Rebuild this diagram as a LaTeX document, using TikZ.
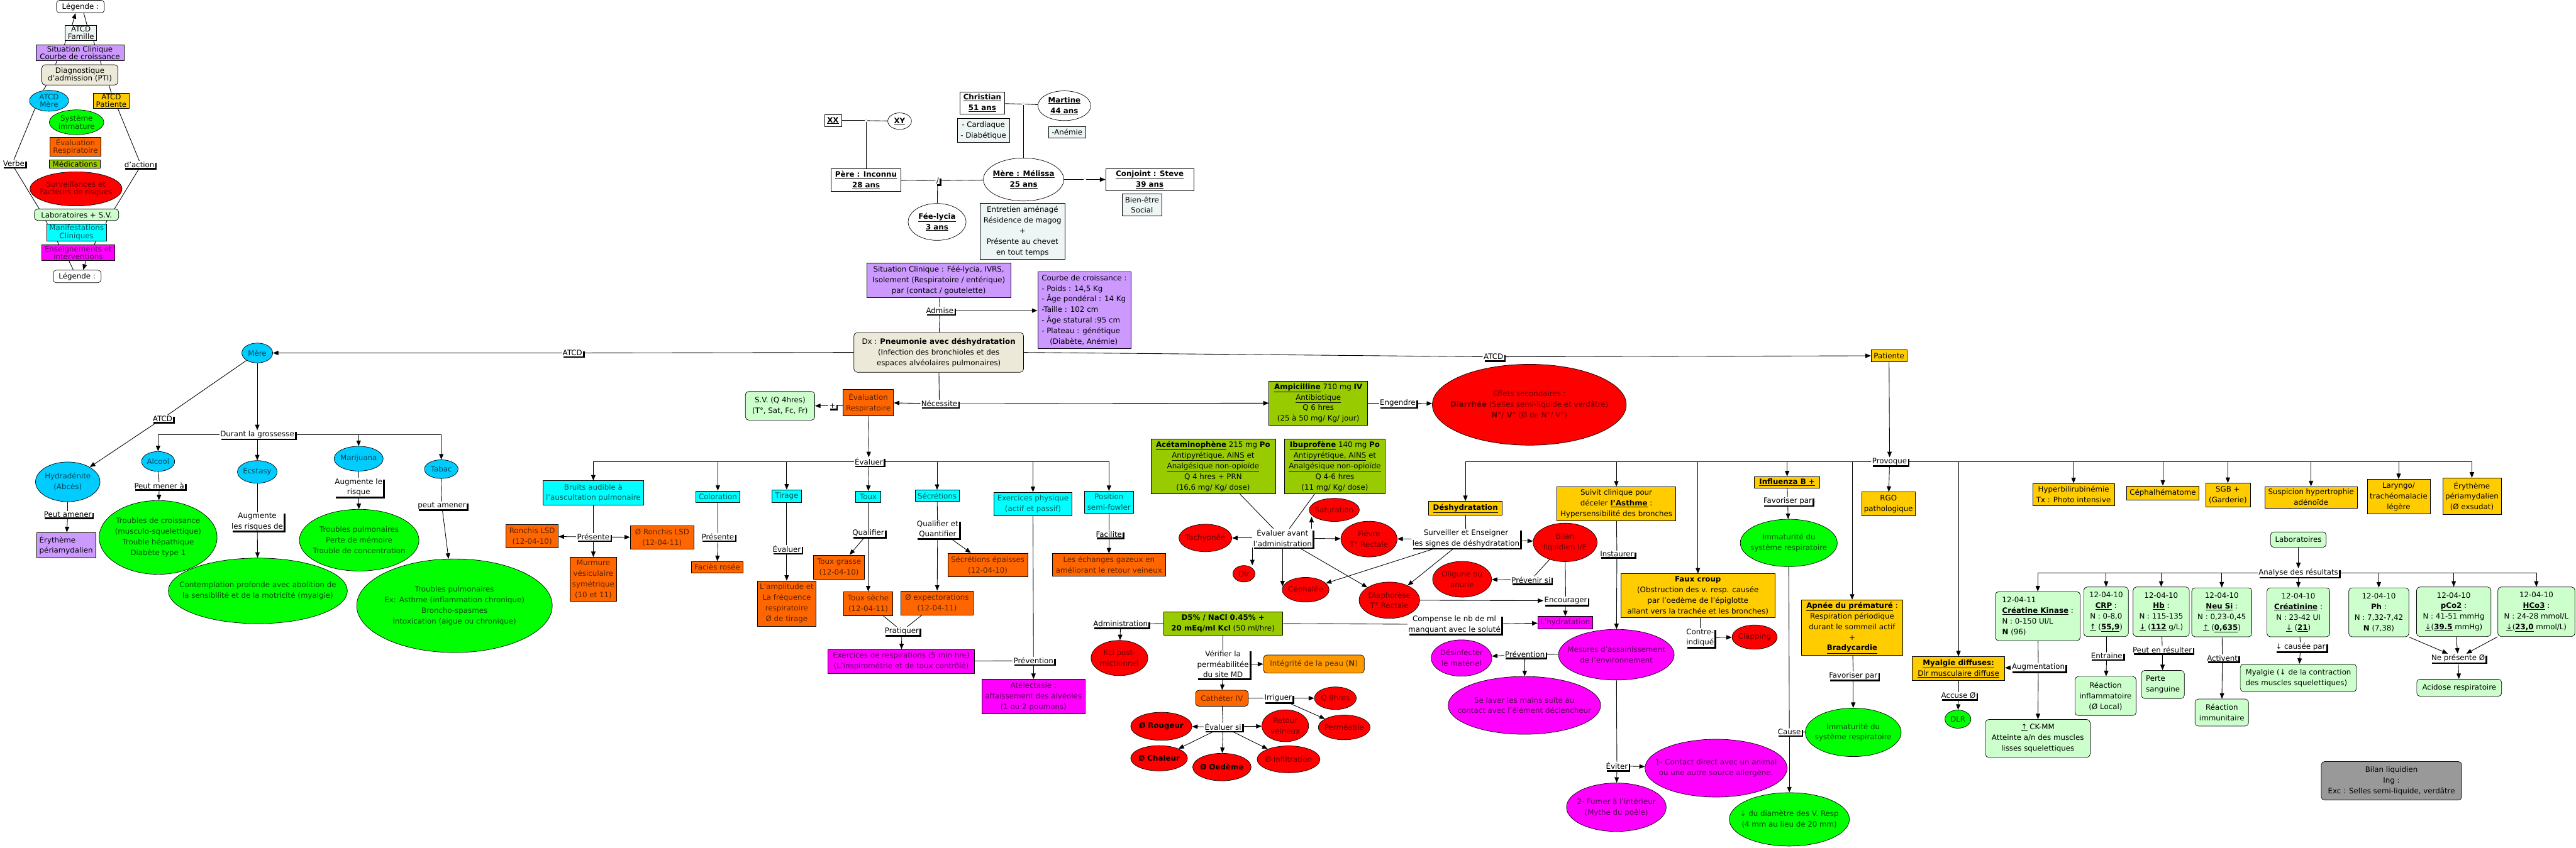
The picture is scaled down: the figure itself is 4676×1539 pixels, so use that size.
\documentclass[tikz,border=0pt]{standalone}
\usepackage{fontspec}
\setmainfont{DejaVu Sans}
\usetikzlibrary{shapes.geometric,arrows.meta,shadows,calc}
\pgfdeclarelayer{bg}
\pgfsetlayers{bg,main}
\definecolor{cPur}{HTML}{CC99FF}
\definecolor{cBei}{HTML}{ECE9D8}
\definecolor{cGry}{HTML}{EEF5F5}
\definecolor{cBlu}{HTML}{00CCFF}
\definecolor{cYel}{HTML}{FFCC00}
\definecolor{cGrn}{HTML}{00FF00}
\definecolor{cOra}{HTML}{FF6600}
\definecolor{cOrb}{HTML}{FF9900}
\definecolor{cMed}{HTML}{99CC00}
\definecolor{cRed}{HTML}{FF0000}
\definecolor{cLgr}{HTML}{CCFFCC}
\definecolor{cCya}{HTML}{00FFFF}
\definecolor{cMag}{HTML}{FF00FF}
\definecolor{cDgr}{HTML}{999999}
\newcommand{\BU}[1]{\textbf{\underline{#1}}}
\begin{document}
\begin{tikzpicture}[x=1pt,y=-1pt,
  every node/.style={font=\fontsize{13.5}{19.3}\selectfont},
  legf/.style={font=\fontsize{13.5}{14}\selectfont},
  shp/.style={draw, line width=0.8pt, inner sep=-300pt, align=center},
  box/.style={shp, rectangle},
  rbox/.style={shp, rectangle, rounded corners=6pt},
  ell/.style={shp, ellipse},
  sz/.style 2 args={minimum width=#1pt, minimum height=#2pt},
  lbl/.style={fill=white, inner xsep=1.5pt, inner ysep=1pt, align=center,
     drop shadow={shadow xshift=3pt, shadow yshift=-3pt, fill=black, opacity=1}},
  mk/.style={fill=white, inner sep=0.5pt, text=black!45, font=\fontsize{9}{9}\selectfont},
  ln/.style={line width=1pt},
  arr/.style={line width=1pt, -{Triangle[length=10pt,width=8pt]}},
  Pur/.style={fill=cPur},
  Bei/.style={fill=cBei},
  Gry/.style={fill=cGry},
  Blu/.style={fill=cBlu, text=cBlu!35!black},
  Yel/.style={fill=cYel},
  Grn/.style={fill=cGrn, text=cGrn!30!black},
  Ora/.style={fill=cOra, text=cOra!35!black},
  Orb/.style={fill=cOrb, text=cOrb!35!black},
  Med/.style={fill=cMed},
  Red/.style={fill=cRed, text=cRed!42!black},
  Lgr/.style={fill=cLgr},
  Cya/.style={fill=cCya, text=cCya!35!black},
  Mag/.style={fill=cMag, text=cMag!35!black},
  Dgr/.style={fill=cDgr}
]
\useasboundingbox (0,0) rectangle (4676,1539);

% ---------------- Legend ----------------
\node[rbox,legf,fill=white,sz={87}{23}] (leg1) at (146,12) {Légende :};
\node[box,legf,Gry,sz={57}{28}] (fam) at (147,60) {ATCD\\Famille};
\node[box,legf,Pur,sz={160}{28}] (legsit) at (145,96) {Situation Clinique\\Courbe de croissance};
\node[rbox,legf,Bei,sz={138}{37}] (legdx) at (145,136) {Diagnostique\\d'admission (PTI)};
\node[ell,legf,Blu,sz={71}{38}] (legmere) at (89,183) {ATCD\\Mère};
\node[box,legf,Yel,sz={65}{28}] (legpat) at (202,183) {ATCD\\Patiente};
\node[ell,legf,Grn,sz={99}{45}] (legsys) at (139,222) {Système\\immature};
\node[box,legf,Ora,sz={93}{34}] (legeval) at (137,266) {Évaluation\\Respiratoire};
\node[box,legf,Med,sz={92}{15}] (legmed) at (136,298) {Médications};
\node[ell,legf,Red,sz={167}{62}] (legsurv) at (138,343) {Surveillances et\\Facteurs de risques};
\node[rbox,legf,Lgr,sz={153}{21}] (leglab) at (139,390) {Laboratoires + S.V.};
\node[box,legf,Cya,sz={109}{31}] (legman) at (139,422) {Manifestations\\Cliniques};
\node[box,legf,Mag,sz={133}{28}] (legens) at (142,459) {Enseignements et\\interventions};
\node[rbox,legf,fill=white,sz={87}{23}] (leg2) at (140,502) {Légende :};
\node[lbl] (legverbe) at (25,297) {Verbe};
\node[lbl] (legact) at (253,299) {d'action};

% ---------------- Family ----------------
\node[box,sz={31}{21}] (xx) at (1512,219) {\BU{XX}};
\node[ell,sz={43}{30}] (xy) at (1633,220) {\BU{XY}};
\node[mk] (mk1) at (1572,219) {-};
\node[box,sz={127}{41}] (pere) at (1572,327) {\BU{Père : Inconnu}\\\BU{28 ans}};
\node[box,sz={81}{40}] (chris) at (1783,187) {\BU{Christian}\\\BU{51 ans}};
\node[ell,sz={96}{54}] (mart) at (1932,192) {\BU{Martine}\\\BU{44 ans}};
\node[box,Gry,sz={95}{43}] (card) at (1785,237) {- Cardiaque\\- Diabétique};
\node[box,Gry,sz={67}{21}] (anem) at (1937,240) {-Anémie};
\node[mk] (mk2) at (1858,189) {-};
\node[ell,sz={146}{78}] (mel) at (1858,326) {\BU{Mère : Mélissa}\\\BU{25 ans}};
\node[lbl] (slash) at (1702,328) {/};
\node[ell,sz={105}{67}] (fee) at (1701,403) {\BU{Fée-lycia}\\\BU{3 ans}};
\node[box,Gry,sz={155}{101}] (entre) at (1856,420) {Entretien aménagé\\Résidence de magog\\+\\Présente au chevet\\en tout temps};
\node[box,sz={160}{40}] (conj) at (2087,326) {\BU{Conjoint : Steve}\\\BU{39 ans}};
\node[mk] (mk3) at (1969,326) {-};
\node[box,Gry,sz={72}{41}] (bien) at (2073,372) {Bien-être\\Social};

% ---------------- Situation / Dx ----------------
\node[box,Pur,sz={262}{63}] (sit) at (1704,509) {Situation Clinique : Féé-lycia, IVRS,\\Isolement (Respiratoire / entérique)\\par (contact / goutelette)};
\node[box,Pur,sz={169}{140},align=left] (courbe) at (1968,563) {Courbe de croissance :\\- Poids : 14,5 Kg\\- Âge pondéral : 14 Kg\\-Taille : 102 cm\\- Âge statural :95 cm\\- Plateau : génétique\\\hspace{1.1em}(Diabète, Anémie)};
\node[lbl] (admise) at (1706,564) {Admise};
\node[rbox,Bei,sz={308}{72}] (dx) at (1704,640) {Dx : \textbf{Pneumonie avec déshydratation}\\(Infection des bronchioles et des\\espaces alvéolaires pulmonaires)};
\node[lbl] (atcdL) at (1039,641) {ATCD};
\node[ell,Blu,sz={56}{36}] (mereL) at (467,641) {Mère};
\node[lbl] (atcdR) at (2711,648) {ATCD};
\node[box,Yel,sz={65}{21}] (pat) at (3429,646) {Patiente};
\node[lbl] (nec) at (1705,733) {Nécessite};
\node[box,Ora,sz={92}{47}] (evr) at (1576,731) {Évaluation\\Respiratoire};
\node[lbl] (plus) at (1511,737) {+};
\node[rbox,Lgr,sz={126}{52}] (sv) at (1416,737) {S.V. (Q 4hres)\\(T°, Sat, Fc, Fr)};
\node[lbl] (evl) at (1577,838) {Évaluer};

% ---------------- Evaluation branches ----------------
\node[box,Cya,sz={183}{44}] (bruits) at (1077,895) {Bruits audible à\\l'auscultation pulmonaire};
\node[box,Cya,sz={79}{21}] (color) at (1303,902) {Coloration};
\node[box,Cya,sz={53}{23}] (tirage) at (1428,901) {Tirage};
\node[box,Cya,sz={46}{20}] (toux) at (1576,902) {Toux};
\node[box,Cya,sz={80}{20}] (secr) at (1701,900) {Sécrétions};
\node[box,Cya,sz={141}{42}] (exph) at (1875,915) {Exercices physique\\(actif et passif)};
\node[box,Cya,sz={89}{40}] (posi) at (2013,912) {Position\\semi-fowler};
\node[lbl] (pres1) at (1077,975) {Présente};
\node[box,Ora,sz={95}{42}] (ron1) at (966,974) {Ronchis LSD\\(12-04-10)};
\node[box,Ora,sz={116}{43}] (ron2) at (1202,976) {Ø Ronchis LSD\\(12-04-11)};
\node[box,Ora,sz={85}{80}] (murm) at (1077,1052) {Murmure\\vésiculaire\\symétrique\\(10 et 11)};
\node[lbl] (pres2) at (1303,975) {Présente};
\node[box,Ora,sz={94}{21}] (facies) at (1302,1030) {Faciès rosée};
\node[lbl] (evl2) at (1428,997) {Évaluer};
\node[box,Ora,sz={107}{82}] (ampl) at (1428,1096) {L'amplitude et\\La fréquence\\respiratoire\\Ø de tirage};
\node[lbl] (qual) at (1576,968) {Qualifier};
\node[box,Ora,sz={93}{44}] (tgrasse) at (1523,1030) {Toux grasse\\(12-04-10)};
\node[box,Ora,sz={89}{43}] (tseche) at (1576,1096) {Toux sèche\\(12-04-11)};
\node[lbl] (qq) at (1702,961) {Qualifier et\\Quantifier};
\node[box,Ora,sz={145}{43}] (sepais) at (1793,1026) {Sécrétions épaisses\\(12-04-10)};
\node[box,Ora,sz={132}{44}] (expec) at (1701,1095) {Ø expectorations\\(12-04-11)};
\node[lbl] (prat) at (1637,1146) {Pratiquer};
\node[box,Mag,sz={266}{43}] (exresp) at (1636,1201) {Exercices de respirations (5 min hre)\\(L'inspirométrie et de toux contrôlé)};
\node[lbl] (prev1) at (1876,1200) {Prévention};
\node[box,Mag,sz={188}{63}] (atel) at (1876,1265) {Atélectasie :\\affaissement des alvéoles\\(1 ou 2 poumons)};
\node[lbl] (facil) at (2013,970) {Facilite};
\node[box,Ora,sz={206}{41}] (echg) at (2013,1026) {Les échanges gazeux en\\améliorant le retour veineux};

% ---------------- Mother branch ----------------
\node[lbl] (atcdM) at (295,760) {ATCD};
\node[ell,Blu,sz={117}{72}] (hydr) at (123,875) {Hydradénite\\(Abcès)};
\node[lbl] (pam) at (123,934) {Peut amener};
\node[box,Pur,sz={107}{46},align=left] (eryt1) at (120,990) {Érythème\\périamydalien};
\node[lbl] (dur) at (467,789) {Durant la grossesse};
\node[ell,Blu,sz={60}{36}] (alc) at (287,838) {Alcool};
\node[ell,Blu,sz={72}{41}] (ecs) at (467,857) {Ecstasy};
\node[ell,Blu,sz={89}{45}] (mari) at (651,833) {Marijuana};
\node[ell,Blu,sz={61}{34}] (tab) at (801,852) {Tabac};
\node[lbl] (pma) at (289,882) {Peut mener à};
\node[ell,Grn,sz={214}{134}] (troub1) at (287,976) {Troubles de croissance\\(musculo-squelettique)\\Trouble hépathique\\Diabète type 1};
\node[lbl] (alr) at (467,947) {Augmente\\les risques de};
\node[ell,Grn,sz={325}{119}] (contemp) at (468,1073) {Contemplation profonde avec abolition de\\la sensibilité et de la motricité (myalgie)};
\node[lbl] (alr2) at (651,885) {Augmente le\\risque};
\node[ell,Grn,sz={217}{112}] (troub2) at (652,981) {Troubles pulmonaires\\Perte de mémoire\\Trouble de concentration};
\node[lbl] (pam2) at (802,918) {peut amener};
\node[ell,Grn,sz={355}{170}] (troub3) at (825,1100) {Troubles pulmonaires\\Ex: Asthme (inflammation chronique)\\Broncho-spasmes\\Intoxication (aigue ou chronique)};

% ---------------- Medications ----------------
\node[box,Med,sz={179}{80}] (ampi) at (2393,732) {\BU{Ampicilline} 710 mg \textbf{IV}\\\underline{Antibiotique}\\Q 6 hres\\(25 à 50 mg/ Kg/ jour)};
\node[lbl] (eng) at (2537,732) {Engendre};
\node[ell,Red,sz={352}{147}] (effets) at (2776,735) {Effets secondaires :\\\textbf{Diarrhée} (Selles semi-liquide et verdâtre)\\\textbf{N°/ V°} (Ø de N°/ V°)};
\node[box,Med,sz={226}{100}] (acet) at (2202,847) {\BU{Acétaminophène} 215 mg \textbf{Po}\\\underline{Antipyrétique, AINS} et\\\underline{Analgésique non-opioïde}\\Q 4 hres + PRN\\(16,6 mg/ Kg/ dose)};
\node[box,Med,sz={182}{100}] (ibu) at (2423,847) {\BU{Ibuprofène} 140 mg \textbf{Po}\\\underline{Antipyrétique, AINS} et\\\underline{Analgésique non-opioïde}\\Q 4-6 hres\\(11 mg/ Kg/ dose)};
\node[lbl] (eva) at (2328,977) {Évaluer avant\\l'administration};
\node[ell,Red,sz={96}{50}] (tachy) at (2188,977) {Tachypnée};
\node[ell,Red,sz={91}{42}] (satur) at (2422,926) {Saturation};
\node[ell,Red,sz={102}{65}] (fievre) at (2485,979) {Fièvre\\T° Rectale};
\node[ell,Red,sz={40}{30}] (dlr) at (2258,1042) {Dlr};
\node[ell,Red,sz={85}{45}] (ceph) at (2370,1071) {Céphalée};
\node[ell,Red,sz={110}{66}] (diaph) at (2522,1090) {Diaphorèse\\T° Rectale};
\node[box,Yel,sz={133}{25}] (desh) at (2660,923) {\BU{Déshydratation}};
\node[lbl] (sens) at (2661,978) {Surveiller et Enseigner\\les signes de déshydratation};
\node[ell,Red,sz={116}{70}] (bilan) at (2841,985) {Bilan\\liquidien I/E};
\node[lbl] (prvs) at (2779,1053) {Prévenir si};
\node[ell,Red,sz={107}{65}] (olig) at (2654,1052) {Oligurie ou\\anurie};
\node[lbl] (enc) at (2842,1091) {Encourager};
\node[box,Mag,sz={99}{23}] (hydra) at (2841,1131) {L'hydratation};
\node[box,Med,sz={216}{42}] (d5) at (2220,1132) {\textbf{D5\% / NaCl 0.45\% +}\\\textbf{20 mEq/ml Kcl} (50 ml/hre)};
\node[lbl] (adm) at (2034,1133) {Administration};
\node[ell,Red,sz={103}{64}] (kcl) at (2032,1195) {Kcl post-\\mictionnel};
\node[lbl] (comp) at (2640,1134) {Compense le nb de ml\\manquant avec le soluté};
\node[lbl] (verif) at (2220,1206) {Vérifier la\\perméabilitée\\du site MD};
\node[rbox,Orb,sz={183}{33}] (integ) at (2385,1206) {Intégrité de la peau (\textbf{N})};
\node[rbox,Ora,sz={96}{29}] (cath) at (2218,1268) {Cathéter IV};
\node[lbl] (irr) at (2320,1268) {Irriguer};
\node[ell,Red,sz={76}{41}] (q8) at (2424,1268) {Q 8hres};
\node[ell,Red,sz={94}{45}] (perm) at (2440,1321) {Perméable};
\node[lbl] (evs) at (2220,1320) {Évaluer si};
\node[ell,Red,sz={111}{51},text=black] (roug) at (2108,1319) {\textbf{Ø Rougeur}};
\node[ell,Red,sz={85}{58}] (retv) at (2333,1318) {Retour\\veineux};
\node[ell,Red,sz={103}{46},text=black] (chal) at (2104,1377) {\textbf{Ø Chaleur}};
\node[ell,Red,sz={106}{50},text=black] (oed) at (2218,1393) {\textbf{Ø Oedème}};
\node[ell,Red,sz={114}{49}] (infil) at (2339,1379) {Ø Infiltration};

% ---------------- Patient branch ----------------
\node[lbl] (prov) at (3430,838) {Provoque};
\node[box,Yel,sz={216}{62}] (suivit) at (2934,915) {Suivit clinique pour\\déceler \BU{l'Asthme} :\\Hypersensibilité des bronches};
\node[lbl] (inst) at (2935,1006) {Instaurer};
\node[ell,Mag,sz={210}{92}] (mes) at (2934,1189) {Mesures d'assainissement\\de l'environnement};
\node[lbl] (prev2) at (2768,1188) {Prévention};
\node[ell,Mag,sz={110}{66}] (desinf) at (2653,1195) {Désinfecter\\le matériel};
\node[ell,Mag,sz={277}{105}] (lav) at (2767,1281) {Se laver les mains suite au\\contact avec l'élément déclencheur};
\node[lbl] (evit) at (2935,1391) {Éviter};
\node[ell,Mag,sz={258}{105}] (cont) at (3115,1395) {1- Contact direct avec un animal\\ou une autre source allergène.};
\node[ell,Mag,sz={181}{88}] (fum) at (2934,1466) {2- Fumer à l'intérieur\\(Mythe du poêle)};
\node[box,Yel,sz={279}{80}] (faux) at (3082,1082) {\textbf{Faux croup}\\(Obstruction des v. resp. causée\\par l'oedème de l'épiglotte\\allant vers la trachée et les bronches)};
\node[lbl] (ci) at (3086,1158) {Contre-\\indiqué};
\node[ell,Red,sz={82}{44}] (clap) at (3185,1157) {Clapping};
\node[box,Yel,sz={119}{21}] (infl) at (3244,876) {\BU{Influenza B +}};
\node[lbl] (fav1) at (3245,910) {Favoriser par};
\node[ell,Grn,sz={176}{86}] (imm1) at (3247,986) {Immaturité du\\système respiratoire};
\node[lbl] (cause) at (3248,1329) {Cause};
\node[ell,Grn,sz={218}{97}] (diam) at (3248,1488) {↓ du diamètre des V. Resp\\(4 mm au lieu de 20 mm)};
\node[box,Yel,sz={98}{43}] (rgo) at (3428,915) {RGO\\pathologique};
\node[box,Yel,sz={184}{101}] (apnee) at (3362,1140) {\BU{Apnée du prématuré} :\\Respiration périodique\\durant le sommeil actif\\+\\\BU{Bradycardie}};
\node[lbl] (fav2) at (3364,1227) {Favoriser par};
\node[ell,Grn,sz={174}{88}] (imm2) at (3364,1330) {Immaturité du\\système respiratoire};
\node[box,Yel,sz={168}{43}] (myal) at (3555,1214) {\BU{Myalgie diffuses:}\\\underline{Dlr musculaire diffuse}};
\node[lbl] (acc) at (3555,1263) {Accuse Ø};
\node[ell,Grn,sz={47}{33}] (dlr2) at (3554,1306) {DLR};
\node[lbl] (augm) at (3700,1212) {Augmentation};
\node[rbox,Lgr,sz={190}{69}] (ckmm) at (3699,1341) {\underline{↑} CK-MM\\Atteinte a/n des muscles\\lisses squelettiques};

% ---------------- Far right ----------------
\node[box,Yel,sz={148}{40}] (hyper) at (3764,898) {Hyperbilirubinémie\\Tx : Photo intensive};
\node[box,Yel,sz={131}{25}] (ceph2) at (3926,895) {Céphalhématome};
\node[box,Yel,sz={81}{43}] (sgb) at (4044,899) {SGB +\\(Garderie)};
\node[box,Yel,sz={168}{39}] (susp) at (4195,903) {Suspicion hypertrophie\\adénoïde};
\node[box,Yel,sz={114}{63}] (lary) at (4354,902) {Laryngo/\\trachéomalacie\\légère};
\node[box,Yel,sz={106}{66}] (eryt2) at (4487,901) {Érythème\\périamydalien\\(Ø exsudat)};
\node[rbox,Lgr,sz={101}{28}] (labo) at (4172,980) {Laboratoires};
\node[lbl] (anal) at (4172,1040) {Analyse des résultats};
\node[rbox,Lgr,sz={154}{89},align=left] (ck) at (3699,1119) {12-04-11\\\BU{Créatine Kinase} :\\N : 0-150 UI/L\\\textbf{N} (96)};
\node[rbox,Lgr,sz={81}{90}] (crp) at (3823,1111) {12-04-10\\\BU{CRP} :\\N : 0-8,0\\\underline{↑} (\BU{55,9})};
\node[rbox,Lgr,sz={102}{90}] (hb) at (3923,1111) {12-04-10\\\BU{Hb} :\\N : 115-135\\\underline{↓} (\BU{112} g/L)};
\node[rbox,Lgr,sz={109}{89}] (neu) at (4033,1112) {12-04-10\\\BU{Neu Si} :\\N : 0,23-0,45\\\underline{↑} (\BU{0,635})};
\node[rbox,Lgr,sz={114}{89}] (crea) at (4172,1112) {12-04-10\\\BU{Créatinine} :\\N : 23-42 UI\\\underline{↓} (\BU{21})};
\node[rbox,Lgr,sz={109}{89}] (ph) at (4318,1112) {12-04-10\\\textbf{Ph} :\\N : 7,32-7,42\\\textbf{N} (7,38)};
\node[rbox,Lgr,sz={135}{90}] (pco) at (4454,1111) {12-04-10\\\BU{pCo2} :\\N : 41-51 mmHg\\\underline{↓}(\BU{39.5} mmHg)};
\node[rbox,Lgr,sz={140}{90}] (hco) at (4604,1111) {12-04-10\\\BU{HCo3} :\\N : 24-28 mmol/L\\\underline{↓}(\BU{23,0} mmol/L)};
\node[lbl] (entr) at (3824,1191) {Entraine};
\node[rbox,Lgr,sz={111}{71}] (rinf) at (3822,1264) {Réaction\\inflammatoire\\(Ø Local)};
\node[lbl] (per) at (3925,1180) {Peut en résulter};
\node[rbox,Lgr,sz={78}{51},align=left] (perte) at (3926,1243) {Perte\\sanguine};
\node[lbl] (act) at (4034,1195) {Activent};
\node[rbox,Lgr,sz={97}{49}] (rimm) at (4033,1294) {Réaction\\immunitaire};
\node[lbl] (cause2) at (4176,1175) {↓ causée par};
\node[rbox,Lgr,sz={211}{50},align=left] (myal2) at (4172,1231) {Myalgie (↓ de la contraction\\des muscles squelettiques)};
\node[lbl] (nep) at (4462,1195) {Ne présente Ø};
\node[rbox,Lgr,sz={154}{31}] (acid) at (4464,1249) {Acidose respiratoire};
\node[rbox,Dgr,sz={255}{70}] (bilan2) at (4341,1418) {Bilan liquidien\\Ing :\\Exc : Selles semi-liquide, verdâtre};

% ================= connectors =================
\begin{pgfonlayer}{bg}
\fill[white] (0,0) rectangle (4676,1539);
% legend
\draw[arr] ($(fam.north)+(-16,0)$) -- ($(leg1.south)+(-9,0)$);
\draw[ln] ($(leg1.south)+(6,0)$) -- ($(fam.north)+(11,0)$);
\draw[ln] ($(fam.south)+(-28,0)$) -- ($(legsit.north)+(-28,0)$);
\draw[ln] ($(fam.south)+(23,0)$) -- ($(legsit.north)+(27,0)$);
\draw[ln] ($(legsit.south)+(-42,0)$) -- ($(legdx.north)+(-44,0)$);
\draw[ln] ($(legsit.south)+(37,0)$) -- ($(legdx.north)+(39,0)$);
\draw[ln] ($(legdx.south)+(-61,0)$) -- ($(legmere.north)+(-10,0)$);
\draw[ln] ($(legdx.south)+(53,0)$) -- (legpat.north);
\draw[ln] (legmere.south west) -- (legverbe.north);
\draw[ln] (legverbe.south) -- ($(leglab.north west)+(9,0)$);
\draw[ln] ($(legpat.south)+(12,0)$) -- (legact.north);
\draw[ln] (legact.south) -- ($(leglab.north east)+(-8,0)$);
\draw[ln] ($(leglab.south)+(-56,0)$) -- ($(legman.north)+(-53,0)$);
\draw[ln] ($(leglab.south)+(55,0)$) -- ($(legman.north)+(53,0)$);
\draw[ln] ($(legman.south)+(-35,0)$) -- ($(legens.north)+(-35,0)$);
\draw[ln] ($(legman.south)+(35,0)$) -- ($(legens.north)+(29,0)$);
\draw[ln] ($(legens.south)+(-17,0)$) -- ($(leg2.north)+(-7,0)$);
\draw[arr] ($(legens.south)+(14,0)$) -- ($(leg2.north)+(11,0)$);
% family
\draw[ln] (xx) -- (mk1); \draw[ln] (mk1) -- (xy);
\draw[ln] (mk1) -- (pere);
\draw[ln] (chris) -- (mk2); \draw[ln] (mk2) -- (mart);
\draw[ln] (mk2) -- (mel);
\draw[ln] (pere) -- (slash); \draw[ln] (slash) -- (mel);
\draw[ln] (slash) -- (fee);
\draw[ln] (mel) -- (mk3); \draw[arr] (mk3) -- (conj);
% situation / dx
\draw[ln] (sit) -- (admise); \draw[ln] (admise) -- (dx);
\draw[arr] (admise) -- (courbe.west |- admise);
\draw[ln] (dx.west) -- (atcdL); \draw[arr] (atcdL) -- (mereL);
\draw[ln] (dx.east) -- (atcdR); \draw[arr] (atcdR) -- (pat);
\draw[ln] (dx) -- (nec);
\draw[arr] (nec) -- (evr); \draw[arr] (nec) -- (ampi);
\draw[ln] (evr.west |- plus) -- (plus); \draw[arr] (plus) -- (sv);
\draw[arr] (evr) -- (evl);
\draw[arr] (evl.west) -| (bruits.north);
\draw[arr] (evl.west) -| (color.north);
\draw[arr] (evl.west) -| (tirage.north);
\draw[arr] (evl) -- (toux);
\draw[arr] (evl.east) -| (secr.north);
\draw[arr] (evl.east) -| (exph.north);
\draw[arr] (evl.east) -| (posi.north);
\draw[ln] (bruits) -- (pres1);
\draw[arr] (pres1) -- (ron1); \draw[arr] (pres1) -- (ron2); \draw[arr] (pres1) -- (murm);
\draw[ln] (color) -- (pres2); \draw[arr] (pres2) -- (facies);
\draw[ln] (tirage) -- (evl2); \draw[arr] (evl2) -- (ampl);
\draw[ln] (toux) -- (qual); \draw[arr] (qual) -- (tgrasse); \draw[arr] (qual) -- (tseche);
\draw[ln] (secr) -- (qq); \draw[arr] (qq) -- (sepais); \draw[arr] (qq) -- (expec);
\draw[ln] (tseche) -- (prat); \draw[ln] (expec) -- (prat); \draw[arr] (prat) -- (exresp);
\draw[ln] (exph) -- (prev1); \draw[ln] (exresp) -- (prev1); \draw[arr] (prev1) -- (atel);
\draw[ln] (posi) -- (facil); \draw[arr] (facil) -- (echg);
% mother
\draw[ln] (mereL) -- (atcdM); \draw[arr] (atcdM) -- (hydr);
\draw[ln] (hydr) -- (pam); \draw[arr] (pam) -- (eryt1);
\draw[arr] (mereL) -- (dur);
\draw[arr] (dur.west) -| (alc.north);
\draw[arr] (dur) -- (ecs);
\draw[arr] (dur.east) -| (mari.north);
\draw[arr] (dur.east) -| (tab.north);
\draw[ln] (alc) -- (pma); \draw[arr] (pma) -- (troub1);
\draw[ln] (ecs) -- (alr); \draw[arr] (alr) -- (contemp);
\draw[ln] (mari) -- (alr2); \draw[arr] (alr2) -- (troub2);
\draw[ln] (tab) -- (pam2); \draw[arr] (pam2) -- (troub3);
% medications
\draw[ln] (ampi) -- (eng); \draw[arr] (eng) -- (effets);
\draw[ln] (acet) -- (eva); \draw[ln] (ibu) -- (eva);
\draw[arr] (eva) -- (tachy);
\draw[arr] ($(eva.north east)+(-2,0)$) -- ($(eva.north east |- satur.south)+(-2,-9)$);
\draw[arr] (eva) -- (fievre);
\draw[arr] (eva.south west) -- (eva.south west |- dlr.north);
\draw[arr] (eva.south) -- ($(eva.south |- ceph.west)+(0,-6)$);
\draw[arr] (eva) -- (diaph);
\draw[arr] (prov.west) -| (desh.north);
\draw[ln] (desh) -- (sens);
\draw[arr] (sens) -- (fievre); \draw[arr] (sens) -- (bilan);
\draw[arr] (sens) -- (ceph); \draw[arr] (sens) -- (diaph);
\draw[ln] (bilan) -- (prvs); \draw[arr] (prvs) -- (olig);
\draw[ln] (bilan) -- (enc); \draw[arr] (diaph) -- (enc); \draw[arr] (enc) -- (hydra);
\draw[ln] (d5) -- (adm); \draw[arr] (adm) -- (kcl);
\draw[ln] (d5) -- (comp); \draw[arr] (comp) -- (hydra);
\draw[ln] (d5) -- (verif); \draw[arr] (verif) -- (integ); \draw[arr] (verif) -- (cath);
\draw[ln] (cath) -- (irr); \draw[arr] (irr) -- (q8); \draw[arr] (irr) -- (perm);
\draw[ln] (cath) -- (evs);
\draw[arr] (evs) -- (roug); \draw[arr] (evs) -- (retv);
\draw[arr] (evs) -- (chal); \draw[arr] (evs) -- (oed); \draw[arr] (evs) -- (infil);
% patient
\draw[arr] (pat) -- (prov);
\draw[arr] (prov.west) -| (suivit.north);
\draw[arr] (prov.west) -| (faux.north);
\draw[arr] (prov.west) -| (infl.north);
\draw[arr] (prov.west) -| (apnee.north);
\draw[arr] (prov) -- (rgo);
\draw[arr] (prov.east) -| (myal.north);
\draw[arr] (prov.east) -| (hyper.north);
\draw[arr] (prov.east) -| (ceph2.north);
\draw[arr] (prov.east) -| (sgb.north);
\draw[arr] (prov.east) -| (susp.north);
\draw[arr] (prov.east) -| (lary.north);
\draw[arr] (prov.east) -| (eryt2.north);
\draw[ln] (suivit) -- (inst); \draw[arr] (inst) -- (mes);
\draw[ln] (mes) -- (prev2); \draw[arr] (prev2) -- (desinf); \draw[arr] (prev2) -- (lav);
\draw[ln] (mes) -- (evit); \draw[arr] (evit) -- (cont); \draw[arr] (evit) -- (fum);
\draw[ln] (faux.south -| ci) -- (ci); \draw[arr] (ci) -- (clap);
\draw[ln] (infl) -- (fav1); \draw[arr] (fav1) -- (imm1);
\draw[ln] (imm1) -- (cause); \draw[ln] (imm2) -- (cause); \draw[arr] (cause) -- (diam);
\draw[ln] (apnee) -- (fav2); \draw[arr] (fav2) -- (imm2);
\draw[ln] (myal) -- (acc); \draw[arr] (acc) -- (dlr2);
\draw[ln] (ck) -- (augm); \draw[arr] (augm) -- (myal); \draw[arr] (augm) -- (ckmm);
% labs
\draw[arr] (labo) -- (anal);
\draw[arr] (anal.west) -| (ck.north);
\draw[arr] (anal.west) -| (crp.north);
\draw[arr] (anal.west) -| (hb.north);
\draw[arr] (anal.west) -| (neu.north);
\draw[arr] (anal) -- (crea);
\draw[arr] (anal.east) -| (ph.north);
\draw[arr] (anal.east) -| (pco.north);
\draw[arr] (anal.east) -| (hco.north);
\draw[ln] (crp) -- (entr); \draw[arr] (entr) -- (rinf);
\draw[ln] (hb) -- (per); \draw[arr] (per) -- (perte);
\draw[ln] (neu) -- (act); \draw[arr] (act) -- (rimm);
\draw[ln] (crea) -- (cause2); \draw[arr] (cause2) -- (myal2);
\draw[arr] (ph.south east) -- (nep); \draw[arr] (pco) -- (nep); \draw[arr] (hco.south west) -- (nep);
\draw[arr] (nep) -- (acid);
\end{pgfonlayer}
\end{tikzpicture}
\end{document}
